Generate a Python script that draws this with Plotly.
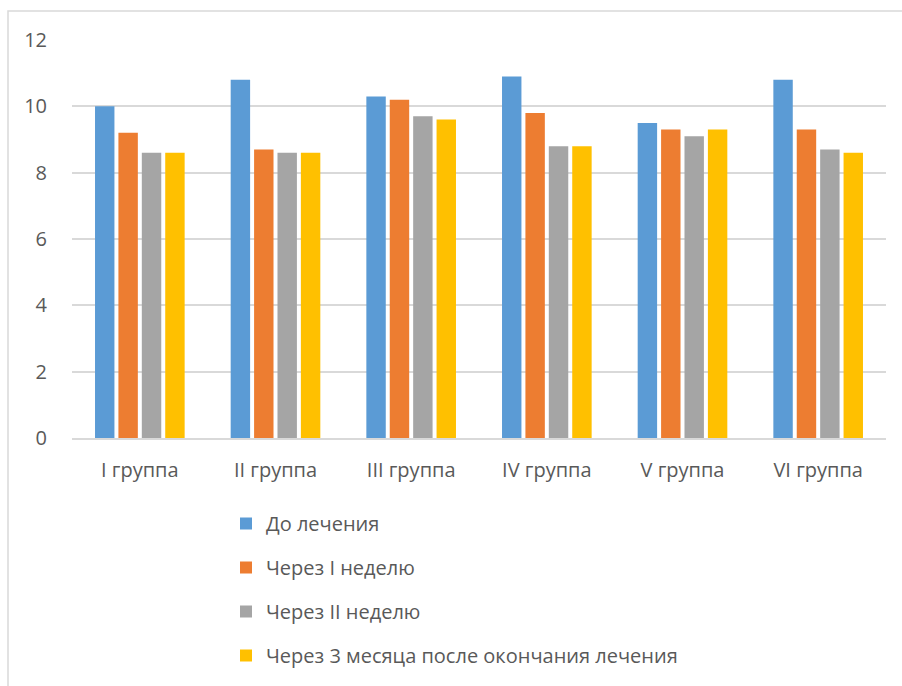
import plotly.graph_objects as go

categories = ["I группа", "II группа", "III группа", "IV группа", "V группа", "VI группа"]
series_names = ["До лечения", "Через I неделю", "Через II неделю",
                "Через 3 месяца после окончания лечения"]
before = [10.0, 10.8, 10.3, 10.9, 9.5, 10.8]
week1 = [9.2, 8.7, 10.2, 9.8, 9.3, 9.3]
week2 = [8.6, 8.6, 9.7, 8.8, 9.1, 8.7]
month3 = [8.6, 8.6, 9.6, 8.8, 9.3, 8.6]
colors = ["#5B9BD5", "#ED7D31", "#A5A5A5", "#FFC000"]
y_ticks = [0, 2, 4, 6, 8, 10, 12]

W, H = 902, 686
ML, MR, MT, MB = 72, 16, 40, 248
pw, ph = W - ML - MR, H - MT - MB

fig = go.Figure()
for i, (name, vals) in enumerate(zip(series_names, [before, week1, week2, month3])):
    fig.add_trace(go.Bar(x=categories, y=vals, name=name, legendgroup=f"g{i}",
                         marker=dict(color=colors[i], line=dict(width=0))))

font = dict(family="Open Sans, Noto Sans, sans-serif", size=20, color="#595959")

def px_x(px):
    return (px - ML) / pw

def px_y(py):
    return (H - MB - py) / ph

fig.update_layout(
    width=W, height=H,
    margin=dict(l=ML, r=MR, t=MT, b=MB, pad=0),
    paper_bgcolor="white", plot_bgcolor="white",
    font=font,
    barmode="group", bargap=0.31, bargroupgap=0.17,
    showlegend=True,
    legend=dict(x=px_x(226), xanchor="left", y=1 - 504 / H, yanchor="top",
                xref="paper", yref="container",
                orientation="v", tracegroupgap=15, itemwidth=30,
                font=font, bgcolor="rgba(0,0,0,0)"),
    xaxis=dict(showgrid=False, showline=True, linecolor="#d9d9d9", linewidth=1.5,
               ticks="", tickfont=font, ticklabelstandoff=13),
    yaxis=dict(range=[0, 12], tickvals=y_ticks, showgrid=True, gridcolor="#d9d9d9",
               gridwidth=1.5, zeroline=False, showline=False, ticks="",
               tickfont=font, ticklabelstandoff=24),
    shapes=[dict(type="rect", xref="paper", yref="paper",
                 x0=px_x(8), x1=px_x(910), y0=px_y(11), y1=px_y(700),
                 line=dict(color="#d9d9d9", width=1.5), fillcolor="rgba(0,0,0,0)",
                 layer="below")],
)

fig.write_html("out.html")
